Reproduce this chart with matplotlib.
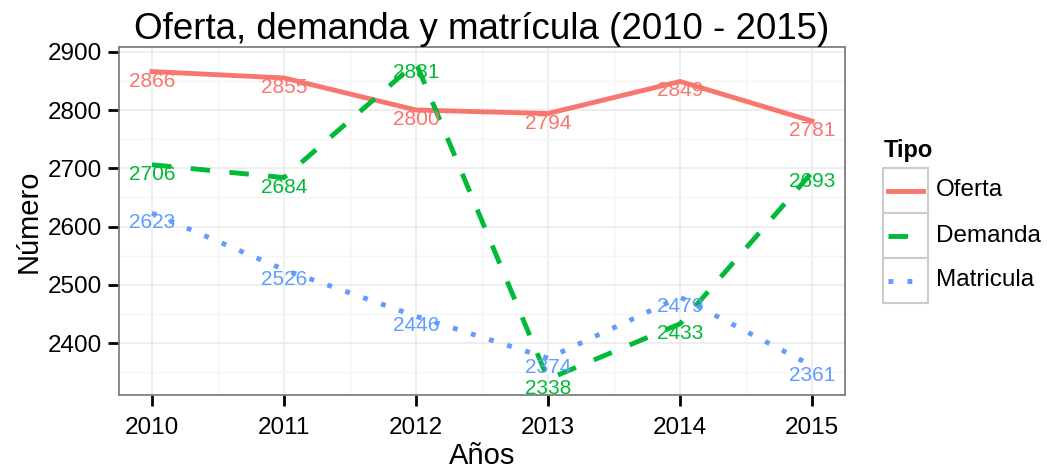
import numpy as np
import matplotlib.pyplot as plt
from matplotlib.lines import Line2D
from matplotlib.patches import Rectangle

plt.rcParams['font.family'] = ['Liberation Sans', 'DejaVu Sans']

years = np.array([2010, 2011, 2012, 2013, 2014, 2015])
oferta = np.array([2866, 2855, 2800, 2794, 2849, 2781])
demanda = np.array([2706, 2684, 2881, 2338, 2433, 2693])
matricula = np.array([2623, 2526, 2446, 2374, 2479, 2361])

series_names = ['Oferta', 'Demanda', 'Matricula']
series_vals = [oferta, demanda, matricula]
colors = ['#F8766D', '#00BA38', '#619CFF']
dashes = [None, (4.0, 4.0), (1.0, 2.9)]

fig = plt.figure(figsize=(10.47, 4.70), dpi=100)
ax = fig.add_axes([119 / 1047, 1 - 395 / 470, (845 - 119) / 1047, (395 - 47) / 470])

for name, vals, c, d in zip(series_names, series_vals, colors, dashes):
    ln, = ax.plot(years, vals, color=c, lw=3.5, label=name, zorder=3)
    if d is not None:
        ln.set_dashes(d)
    for x, y in zip(years, vals):
        ax.text(x, y, str(y), color=c, fontsize=15, ha='center', va='top', zorder=4)

ax.set_xticks(years)
ax.set_yticks([2400, 2500, 2600, 2700, 2800, 2900])
ax.set_xticks(np.arange(2009.5, 2015.6, 1), minor=True)
ax.set_yticks(np.arange(2350, 2901, 100), minor=True)
ymin, ymax = 2338, 2881
pad = 0.05 * (ymax - ymin)
ax.set_ylim(ymin - pad, ymax + pad)
ax.set_xlim(2010 - 0.05 * 5, 2015 + 0.05 * 5)
ax.grid(True, which='major', color='#EBEBEB', lw=1.2)
ax.grid(True, which='minor', color='#F4F4F4', lw=1.0)
ax.set_axisbelow(True)
ax.tick_params(which='minor', length=0)
ax.tick_params(which='major', length=8, width=2, color='black', labelsize=17.5, pad=4)
ax.tick_params(axis='x', pad=8)
for s in ax.spines.values():
    s.set_color('#7F7F7F')
    s.set_linewidth(1.3)

ax.set_xlabel('Años', fontsize=21, labelpad=2)
ax.set_ylabel('Número', fontsize=21, labelpad=4)
ax.set_title('Oferta, demanda y matrícula (2010 - 2015)', fontsize=26.5, pad=2)

# legend drawn by hand, ggplot style
W, H = 1047, 470
fig.text(884 / W, 1 - 150 / H, 'Tipo', fontsize=17, fontweight='bold', va='center', ha='left')
box_x0, box_w, box_h = 883, 45, 45
for i, (name, c, d) in enumerate(zip(series_names, colors, dashes)):
    top = 168 + i * box_h
    fig.add_artist(Rectangle((box_x0 / W, 1 - (top + box_h) / H), box_w / W, box_h / H,
                             transform=fig.transFigure, facecolor='white', edgecolor='#CCCCCC', lw=1.5))
    yc = 1 - (top + box_h / 2) / H
    ln = Line2D([(box_x0 + 5) / W, (box_x0 + box_w - 5) / W], [yc, yc], transform=fig.transFigure,
                color=c, lw=3.5)
    if d is not None:
        ln.set_dashes(d)
    fig.add_artist(ln)
    fig.text(936 / W, yc, name, fontsize=17.5, va='center', ha='left')

fig.savefig('out.png', dpi=100)
